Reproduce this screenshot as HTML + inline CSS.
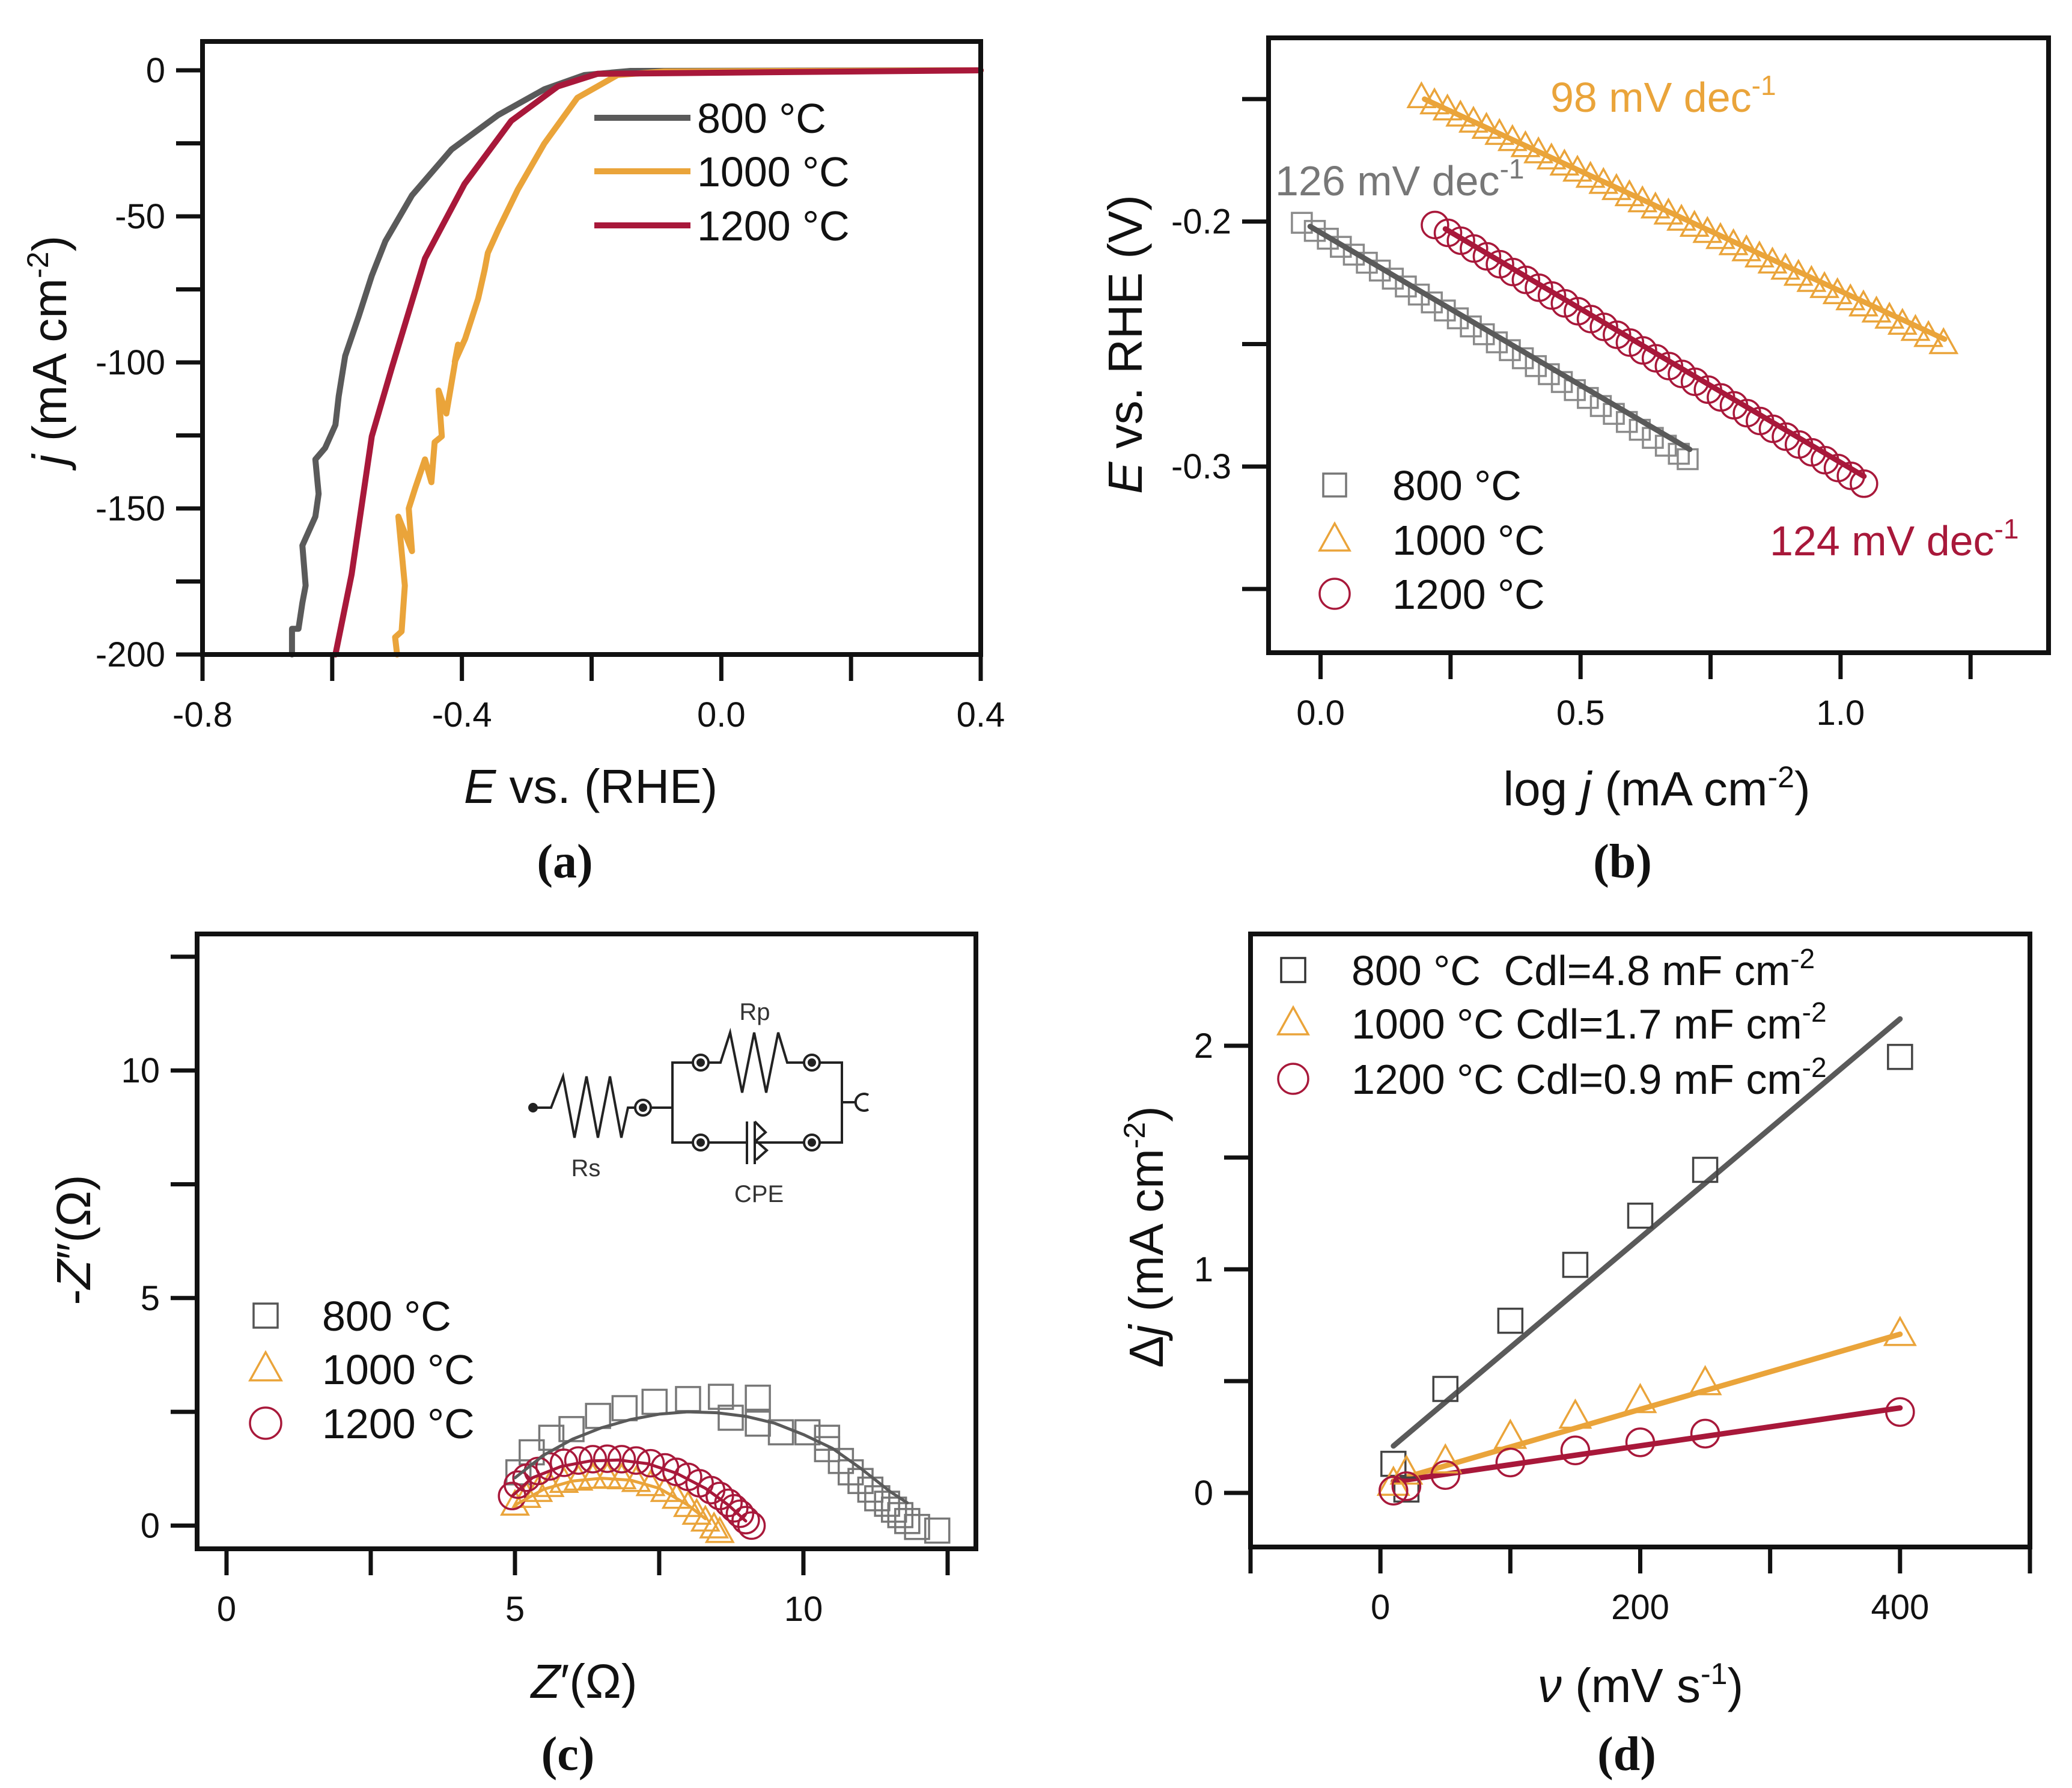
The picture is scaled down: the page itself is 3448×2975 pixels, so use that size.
<!DOCTYPE html>
<html><head><meta charset="utf-8">
<style>
html,body{margin:0;padding:0;background:#fff;}
svg{display:block;font-family:"Liberation Sans",sans-serif;}
.tick{font-size:58px;fill:#111;}
.title{font-size:80px;fill:#111;}
.leg{font-size:70px;fill:#111;}
.plab{font-family:"Liberation Serif",serif;font-size:80px;font-weight:bold;fill:#111;}
</style></head>
<body>
<svg id="fig" xmlns="http://www.w3.org/2000/svg" width="3448" height="2975" viewBox="0 0 3448 2975"></svg>
<script>
// ---------- Panel (a) data: LSV curves ----------
const aGreyX=[-0.662,-0.662,-0.652,-0.646,-0.641,-0.646,-0.626,-0.621,-0.626,-0.611,-0.595,-0.590,-0.580,-0.559,-0.539,-0.518,-0.477,-0.416,-0.344,-0.273,-0.211,-0.140,0.4];
const aGreyY=[-200,-191.2,-191.2,-182.3,-176.4,-162.7,-152.8,-145,-133.2,-129.3,-121.4,-111.6,-97.8,-84.1,-70.3,-58.5,-42.8,-27.1,-15.3,-6.5,-1.6,-0.2,0];
const aOrangeX=[-0.500,-0.503,-0.493,-0.488,-0.498,-0.477,-0.482,-0.472,-0.457,-0.447,-0.442,-0.431,-0.436,-0.424,-0.406,-0.411,-0.395,-0.375,-0.365,-0.360,-0.344,-0.314,-0.273,-0.222,-0.160,-0.088,0.4];
const aOrangeY=[-200,-194.1,-192.1,-176.4,-152.8,-164.6,-150,-143,-133.2,-141,-127.3,-125.3,-109.6,-117.5,-93.9,-99.8,-91.9,-78.2,-68.4,-62.5,-54.6,-40.9,-25.1,-9.4,-1.6,-0.4,0];
const aRedX=[-0.595,-0.570,-0.539,-0.508,-0.457,-0.396,-0.324,-0.252,-0.191,0.4];
const aRedY=[-200,-172.5,-125.3,-101.8,-64.4,-38.9,-17.3,-5.5,-1.2,0];
const aXTicks=[-0.8,-0.6,-0.4,-0.2,0.0,0.2,0.4];
const aXLabels=["-0.8","","-0.4","","0.0","","0.4"];
const aYTicks=[0,-25,-50,-75,-100,-125,-150,-175,-200];
const aYLabels=["0","","-50","","-100","","-150","","-200"];

// ---------- Panel (b) data: Tafel ----------
const bGreyX=[-0.036,-0.011,0.014,0.039,0.064,0.089,0.114,0.139,0.164,0.189,0.214,0.239,0.264,0.289,0.314,0.339,0.364,0.389,0.414,0.439,0.464,0.489,0.514,0.539,0.564,0.589,0.614,0.639,0.664,0.689,0.706];
const bGreyY=[-0.2005,-0.2038,-0.2070,-0.2103,-0.2135,-0.2168,-0.2200,-0.2233,-0.2265,-0.2298,-0.2330,-0.2363,-0.2395,-0.2428,-0.2460,-0.2493,-0.2525,-0.2558,-0.2590,-0.2623,-0.2655,-0.2688,-0.2720,-0.2753,-0.2785,-0.2818,-0.2850,-0.2883,-0.2915,-0.2948,-0.2970];
const bOrangeX=[0.194,0.219,0.244,0.269,0.294,0.319,0.344,0.369,0.394,0.419,0.444,0.469,0.494,0.519,0.544,0.569,0.594,0.619,0.644,0.669,0.694,0.719,0.744,0.769,0.794,0.819,0.844,0.869,0.894,0.919,0.944,0.969,0.994,1.019,1.044,1.069,1.094,1.119,1.144,1.169,1.198];
const bOrangeY=[-0.1494,-0.1519,-0.1544,-0.1569,-0.1594,-0.1619,-0.1644,-0.1669,-0.1694,-0.1719,-0.1744,-0.1769,-0.1794,-0.1819,-0.1844,-0.1869,-0.1894,-0.1919,-0.1944,-0.1969,-0.1994,-0.2019,-0.2044,-0.2069,-0.2094,-0.2119,-0.2144,-0.2169,-0.2194,-0.2219,-0.2244,-0.2269,-0.2294,-0.2319,-0.2344,-0.2369,-0.2394,-0.2419,-0.2444,-0.2469,-0.2498];
const bRedX=[0.220,0.245,0.270,0.295,0.320,0.345,0.370,0.395,0.420,0.445,0.470,0.495,0.520,0.545,0.570,0.595,0.620,0.645,0.670,0.695,0.720,0.745,0.770,0.795,0.820,0.845,0.870,0.895,0.920,0.945,0.970,0.995,1.020,1.045];
const bRedY=[-0.2014,-0.2046,-0.2078,-0.2110,-0.2142,-0.2174,-0.2206,-0.2238,-0.2270,-0.2302,-0.2334,-0.2366,-0.2398,-0.2430,-0.2462,-0.2494,-0.2526,-0.2558,-0.2590,-0.2622,-0.2654,-0.2686,-0.2718,-0.2750,-0.2782,-0.2814,-0.2846,-0.2878,-0.2910,-0.2942,-0.2974,-0.3006,-0.3038,-0.3070];
const bGreyFitX=[-0.02,0.71], bGreyFitY=[-0.202,-0.293];
const bOrangeFitX=[0.20,1.20], bOrangeFitY=[-0.150,-0.248];
const bRedFitX=[0.24,1.045], bRedFitY=[-0.203,-0.304];
const bXTicks=[0,0.25,0.5,0.75,1.0,1.25];
const bXLabels=["0.0","","0.5","","1.0",""];
const bYTicks=[-0.15,-0.2,-0.25,-0.3,-0.35];
const bYLabels=["","-0.2","","-0.3",""];

// ---------- Panel (c) data: Nyquist ----------
const cGreyX=[5.06,5.29,5.63,5.98,6.44,6.90,7.42,8.00,8.57,8.74,9.21,9.21,9.61,10.07,10.41,10.41,10.65,10.82,10.99,11.16,11.28,11.45,11.57,11.68,11.80,11.97,12.32];
const cGreyY=[1.17,1.61,1.93,2.12,2.41,2.58,2.72,2.78,2.83,2.37,2.81,2.24,2.05,2.05,1.93,1.68,1.42,1.17,0.98,0.79,0.60,0.48,0.35,0.23,0.10,-0.03,-0.11];
const cOrangeX=[5.0,5.2,5.4,5.6,5.85,6.1,6.35,6.6,6.85,7.1,7.35,7.6,7.8,8.0,8.15,8.3,8.45,8.55];
const cOrangeY=[0.45,0.62,0.75,0.86,0.95,1.0,1.04,1.05,1.03,0.97,0.88,0.75,0.6,0.42,0.25,0.1,-0.05,-0.15];
const cRedX=[4.95,5.05,5.2,5.4,5.6,5.85,6.1,6.35,6.6,6.85,7.1,7.35,7.6,7.8,8.0,8.2,8.4,8.55,8.7,8.8,8.9,9.0,9.1];
const cRedY=[0.65,0.9,1.05,1.2,1.3,1.38,1.43,1.46,1.47,1.46,1.43,1.37,1.28,1.18,1.07,0.93,0.78,0.65,0.5,0.38,0.26,0.12,0.0];
const cGreyFitX=[5.0,5.5,6,6.5,7,7.5,8,8.5,9,9.5,10,10.5,11,11.5,11.8];
const cGreyFitY=[1.05,1.55,1.9,2.15,2.33,2.45,2.5,2.48,2.4,2.25,2.0,1.7,1.25,0.75,0.5];
const cOrangeFitX=[5.0,5.5,6,6.5,7,7.5,8,8.3];
const cOrangeFitY=[0.45,0.8,0.98,1.04,1.0,0.82,0.45,0.15];
const cRedFitX=[4.95,5.3,5.8,6.3,6.8,7.3,7.8,8.3,8.7,9.0];
const cRedFitY=[0.65,1.05,1.3,1.42,1.44,1.36,1.15,0.82,0.45,0.1];
const cXTicks=[0,2.5,5,7.5,10,12.5];
const cXLabels=["0","","5","","10",""];
const cYTicks=[0,2.5,5,7.5,10,12.5];
const cYLabels=["0","","5","","10",""];

// ---------- Panel (d) data: Cdl ----------
const dScan=[10,20,50,100,150,200,250,400];
const dGrey=[0.13,0.015,0.465,0.77,1.02,1.24,1.445,1.95];
const dOrange=[0.04,0.09,0.14,0.25,0.34,0.41,0.49,0.71];
const dRed=[0.01,0.03,0.08,0.136,0.19,0.226,0.265,0.362];
const dGreyFitX=[10,400], dGreyFitY=[0.21,2.12];
const dOrangeFitX=[10,400], dOrangeFitY=[0.054,0.71];
const dRedFitX=[10,400], dRedFitY=[0.05,0.38];
const dXTicks=[-100,0,100,200,300,400,500];
const dXLabels=["","0","","200","","400",""];
const dYTicks=[0,0.5,1,1.5,2];
const dYLabels=["0","","1","","2"];

const GREY="#5a5a5a", ORANGE="#eaa43a", RED="#a8183a";
const NS="http://www.w3.org/2000/svg";
const svg=document.getElementById('fig');
function mk(tag,attrs,parent){const e=document.createElementNS(NS,tag);for(const k in attrs)e.setAttribute(k,attrs[k]);(parent||svg).appendChild(e);return e;}
function scale(d0,d1,p0,p1){return v=>p0+(v-d0)/(d1-d0)*(p1-p0);}

function axes(P,g,xt,xl,yt,yl){
  const box=mk('rect',{x:P.L,y:P.T,width:P.R-P.L,height:P.B-P.T,fill:'none',stroke:'#111','stroke-width':8},g);
  
  
  xt.forEach((v,i)=>{const x=P.sx(v);
    const t=mk('line',{x1:x,x2:x,y1:P.B,y2:P.B+44,stroke:'#111','stroke-width':7},g);
    
    
    if(xl[i]){const l=mk('text',{x:x,y:P.B+120,'text-anchor':'middle',class:'tick'},g);l.textContent=xl[i];
      
      }
  });
  yt.forEach((v,i)=>{const y=P.sy(v);
    const t=mk('line',{x1:P.L-44,x2:P.L,y1:y,y2:y,stroke:'#111','stroke-width':7},g);
    
    
    if(yl[i]){const l=mk('text',{x:P.L-62,y:y+20,'text-anchor':'end',class:'tick'},g);l.textContent=yl[i];
      
      }
  });
}
function polyline(P,xs,ys,color,w,g,nm){
  const pts=xs.map((x,i)=>P.sx(x).toFixed(1)+','+P.sy(ys[i]).toFixed(1)).join(' ');
  const p=mk('polyline',{points:pts,fill:'none',stroke:color,'stroke-width':w,'stroke-linejoin':'round','stroke-linecap':'round'},g);
  
  
  return p;
}
function marker(type,cx,cy,size,color,g,nm){
  let m;
  if(type==='sq'){m=mk('rect',{x:cx-size/2,y:cy-size/2,width:size,height:size,fill:'none',stroke:color,'stroke-width':3.5},g);}
  else if(type==='tri'){const h=size*0.9;m=mk('polygon',{points:`${cx},${cy-h*0.6} ${cx-size/2},${cy+h*0.4} ${cx+size/2},${cy+h*0.4}`,fill:'none',stroke:color,'stroke-width':3.5},g);}
  else {m=mk('circle',{cx:cx,cy:cy,r:size/2,fill:'none',stroke:color,'stroke-width':3.5},g);}
  
  
  return m;
}
function scatter(P,xs,ys,type,size,color,g,nm){xs.forEach((x,i)=>marker(type,P.sx(x),P.sy(ys[i]),size,color,g,nm));}
function text(str,x,y,cls,g,nm,anchor,extra){
  const t=mk('text',Object.assign({x:x,y:y,class:cls,'text-anchor':anchor||'start'},extra||{}),g);
  t.innerHTML=str;
  
  
  return t;
}

// ===== Panel A =====
const gA=mk('g',{});


const PA={L:337,R:1632,T:69,B:1089};
PA.sx=scale(-0.8,0.4,PA.L,PA.R); PA.sy=scale(-200,0,1089,117);
polyline(PA,aGreyX,aGreyY,GREY,10,gA,'curve-800c');
polyline(PA,aOrangeX,aOrangeY,ORANGE,10,gA,'curve-1000c');
polyline(PA,aRedX,aRedY,RED,10,gA,'curve-1200c');
axes(PA,gA,aXTicks,aXLabels,aYTicks,aYLabels);
[[GREY,'800 °C',196],[ORANGE,'1000 °C',285],[RED,'1200 °C',375]].forEach(([c,s,y])=>{
  const l=mk('line',{x1:989,x2:1149,y1:y,y2:y,stroke:c,'stroke-width':10},gA);
  
  
  text(s,1160,y+25,'leg',gA,'legend-label');
});
text('<tspan font-style="italic">E</tspan> vs. (RHE)',983,1336,'title',gA,'x-axis-title','middle');
text('<tspan font-style="italic">j</tspan> (mA cm<tspan dy="-30" font-size="50">-2</tspan><tspan dy="30">)</tspan>',0,0,'title',gA,'y-axis-title','middle',{transform:'translate(110,583) rotate(-90)'});
text('(<tspan>a</tspan>)',940,1460,'plab',gA,'panel-label-a','middle');

// ===== Panel B =====
const gB=mk('g',{});


const PB={L:2111,R:3409,T:63,B:1086};
PB.sx=scale(-0.1,1.4,PB.L,PB.R); PB.sy=scale(-0.376,-0.125,PB.B,PB.T);
scatter(PB,bGreyX,bGreyY,'sq',33,'#8a8a8a',gB,'point-800c');
scatter(PB,bOrangeX,bOrangeY,'tri',44,ORANGE,gB,'point-1000c');
scatter(PB,bRedX,bRedY,'circ',44,RED,gB,'point-1200c');
polyline(PB,bGreyFitX,bGreyFitY,GREY,9,gB,'fit-800c');
polyline(PB,bOrangeFitX,bOrangeFitY,ORANGE,9,gB,'fit-1000c');
polyline(PB,bRedFitX,bRedFitY,RED,9,gB,'fit-1200c');
axes(PB,gB,bXTicks,bXLabels,bYTicks,bYLabels);
text('98 mV dec<tspan dy="-28" font-size="46">-1</tspan>',2580,186,'leg',gB,'slope-label-1000c','start',{style:'fill:'+ORANGE});
text('126 mV dec<tspan dy="-28" font-size="46">-1</tspan>',2122,325,'leg',gB,'slope-label-800c','start',{style:'fill:#777'});
text('124 mV dec<tspan dy="-28" font-size="46">-1</tspan>',2945,924,'leg',gB,'slope-label-1200c','start',{style:'fill:'+RED});
[['sq','#777','800 °C',807],['tri',ORANGE,'1000 °C',898],['circ',RED,'1200 °C',988]].forEach(([t,c,s,y])=>{
  marker(t,2221,y,t==='sq'?38:50,c,gB,'legend-marker');
  text(s,2317,y+25,'leg',gB,'legend-label');
});
text('log <tspan font-style="italic">j</tspan> (mA cm<tspan dy="-30" font-size="50">-2</tspan><tspan dy="30">)</tspan>',2757,1340,'title',gB,'x-axis-title','middle');
text('<tspan font-style="italic">E</tspan> vs. RHE (V)',0,0,'title',gB,'y-axis-title','middle',{transform:'translate(1900,573) rotate(-90)'});
text('(b)',2700,1460,'plab',gB,'panel-label-b','middle');

// ===== Panel C =====
const gC=mk('g',{});


const PC={L:328,R:1624,T:1554,B:2577};
PC.sx=scale(-0.51,12.99,PC.L,PC.R); PC.sy=scale(-0.51,13.0,PC.B,PC.T);
scatter(PC,cGreyX,cGreyY,'sq',40,'#777',gC,'point-800c');
scatter(PC,cOrangeX,cOrangeY,'tri',44,ORANGE,gC,'point-1000c');
scatter(PC,cRedX,cRedY,'circ',44,RED,gC,'point-1200c');
polyline(PC,cGreyFitX,cGreyFitY,GREY,5,gC,'fit-800c');
polyline(PC,cOrangeFitX,cOrangeFitY,ORANGE,5,gC,'fit-1000c');
polyline(PC,cRedFitX,cRedFitY,RED,5,gC,'fit-1200c');
axes(PC,gC,cXTicks,cXLabels,cYTicks,cYLabels);
[['sq','#555','800 °C',2189],['tri',ORANGE,'1000 °C',2278],['circ',RED,'1200 °C',2368]].forEach(([t,c,s,y])=>{
  marker(t,442,y,t==='sq'?40:52,c,gC,'legend-marker');
  text(s,536,y+25,'leg',gC,'legend-label');
});
text('<tspan font-style="italic">Z</tspan>′(Ω)',972,2825,'title',gC,'x-axis-title','middle');
text('-<tspan font-style="italic">Z</tspan>″(Ω)',0,0,'title',gC,'y-axis-title','middle',{transform:'translate(150,2063) rotate(-90)'});
text('(c)',945,2945,'plab',gC,'panel-label-c','middle');
// equivalent circuit inset
const gCir=mk('g',{stroke:'#222','stroke-width':4,fill:'none'},gC);


mk('circle',{cx:887,cy:1843,r:6,fill:'#222'},gCir);
mk('polyline',{points:'887,1843 917,1843 937,1791 956,1893 976,1791 995,1893 1015,1791 1034,1893 1045,1843 1057,1843'},gCir);
mk('polyline',{points:'1083,1843 1119,1843 1119,1768 1153,1768'},gCir);
mk('polyline',{points:'1119,1843 1119,1901 1153,1901'},gCir);
mk('polyline',{points:'1179,1768 1199,1768 1215,1718 1235,1818 1255,1718 1275,1818 1295,1718 1310,1768 1338,1768'},gCir);
mk('polyline',{points:'1179,1901 1243,1901'},gCir);
mk('line',{x1:1243,y1:1866,x2:1243,y2:1937},gCir);
mk('line',{x1:1256,y1:1866,x2:1256,y2:1937},gCir);
mk('polyline',{points:'1256,1866 1274,1884 1258,1898 1276,1914 1258,1930'},gCir);
mk('polyline',{points:'1256,1901 1338,1901'},gCir);
mk('polyline',{points:'1364,1768 1401,1768 1401,1901 1364,1901'},gCir);
mk('polyline',{points:'1401,1834 1425,1834'},gCir);
mk('path',{d:'M1445,1822 A14,14 0 1 0 1445,1846'},gCir);
[[1166,1768],[1351,1768],[1166,1901],[1351,1901],[1070,1843]].forEach(([x,y])=>{
  mk('circle',{cx:x,cy:y,r:13},gCir);mk('circle',{cx:x,cy:y,r:5,fill:'#222'},gCir);
});
text('Rp',1256,1697,'tick',gC,'circuit-label-rp','middle',{style:'font-size:40px;fill:#333'});
text('Rs',975,1957,'tick',gC,'circuit-label-rs','middle',{style:'font-size:40px;fill:#333'});
text('CPE',1263,2000,'tick',gC,'circuit-label-cpe','middle',{style:'font-size:40px;fill:#333'});

// ===== Panel D =====
const gD=mk('g',{});


const PD={L:2081,R:3378,T:1554,B:2574};
PD.sx=scale(-100,500,PD.L,PD.R); PD.sy=scale(-0.242,2.5,PD.B,PD.T);
polyline(PD,dGreyFitX,dGreyFitY,GREY,9,gD,'fit-800c');
polyline(PD,dOrangeFitX,dOrangeFitY,ORANGE,9,gD,'fit-1000c');
polyline(PD,dRedFitX,dRedFitY,RED,9,gD,'fit-1200c');
scatter(PD,dScan,dGrey,'sq',40,'#444',gD,'point-800c');
scatter(PD,dScan,dOrange,'tri',50,ORANGE,gD,'point-1000c');
scatter(PD,dScan,dRed,'circ',46,RED,gD,'point-1200c');
axes(PD,gD,dXTicks,dXLabels,dYTicks,dYLabels);
[['sq','#333','800 °C  Cdl=4.8 mF cm',1614],['tri',ORANGE,'1000 °C Cdl=1.7 mF cm',1703],['circ',RED,'1200 °C Cdl=0.9 mF cm',1795]].forEach(([t,c,s,y])=>{
  marker(t,2152,y,t==='sq'?40:50,c,gD,'legend-marker');
  text(s+'<tspan dy="-28" font-size="46">-2</tspan>',2249,y+25,'leg',gD,'legend-label','start',{style:'white-space:pre'});
});
text('<tspan font-style="italic">ν</tspan> (mV s<tspan dy="-30" font-size="50">-1</tspan><tspan dy="30">)</tspan>',2730,2832,'title',gD,'x-axis-title','middle');
text('Δ<tspan font-style="italic">j</tspan> (mA  cm<tspan dy="-30" font-size="50">-2</tspan><tspan dy="30">)</tspan>',0,0,'title',gD,'y-axis-title','middle',{transform:'translate(1935,2058) rotate(-90)'});
text('(d)',2707,2945,'plab',gD,'panel-label-d','middle');
</script>
</body></html>
